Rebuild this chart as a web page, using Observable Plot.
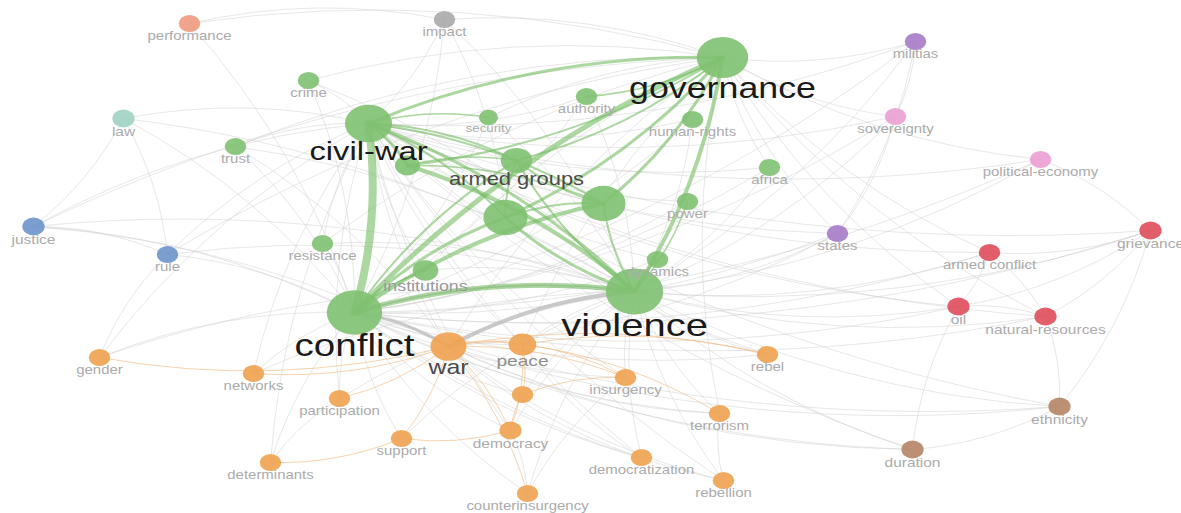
<!DOCTYPE html>
<html>
<head>
<meta charset="utf-8">
<script src="https://cdn.jsdelivr.net/npm/d3@7"></script>
<script src="https://cdn.jsdelivr.net/npm/@observablehq/plot@0.6"></script>
<style>
html, body { margin: 0; padding: 0; background: #fff; overflow: hidden; }
#chart svg { display: block; }
</style>
</head>
<body>
<div id="chart"></div>
<script>
// ---- Data: keyword co-occurrence map (VOSviewer style) ----
const names = ["governance","civil-war","conflict","violence","armed groups","n1","n2","n3",
  "security","authority","human-rights","africa","power","dynamics","institutions","resistance","trust","crime",
  "impact","performance","law","justice","rule","militias","states","sovereignty","political-economy",
  "grievance","armed conflict","oil","natural-resources","ethnicity","duration",
  "war","peace","gender","networks","participation","support","democracy","n4","insurgency","rebel",
  "terrorism","democratization","rebellion","counterinsurgency","determinants"];
const mapX = [722,368,354,634,516,505,603,407,
  488,586,692,769,687,657,425,322,235,308,
  444,189,123,33,167,915,837,895,1040,
  1150,989,958,1045,1059,912,
  448,522,99,253,339,401,510,522,625,767,
  719,641,723,527,270];
const mapY = [57,123,312,291,160,217,203,165,
  117,96,119,167,201,259,270,243,146,80,
  19,23,118,226,254,41,233,116,159,
  230,252,306,316,406,449,
  346,344,357,373,398,438,430,394,377,354,
  413,457,480,493,462];
const occurrences = [80,67,93,100,30,59,59,19,
  11,14,14,14,14,14,20,14,14,14,
  14,14,15,15,14,14,14,14,14,
  15,14,15,15,15,15,
  39,23,14,14,14,14,15,14,14,14,
  14,14,14,14,14];
const clusters = ["g","g","g","g","g","g","g","g",
  "g","g","g","g","g","g","g","g","g","g",
  "gray","salmon","teal","blue","blue","purple","purple","pink","pink",
  "red","red","red","red","brown","brown",
  "o","o","o","o","o","o","o","o","o","o",
  "o","o","o","o","o"];
const hiddenLabels = ["n1","n2","n3","n4"];
const clusterNames = ["g","o","gray","salmon","teal","blue","purple","pink","red","brown"];
const clusterColors = ["#80c171","#eea250","#aaaaaa","#ee9a80","#9fd3c3","#6d93cc","#a57ac6","#ec9fd3","#df4d5b","#b58463"];

// strong links inside the green cluster: [source, target, strength]
const greenLinks = [
  ["civil-war","conflict",8],["conflict","governance",5],["conflict","violence",5],
  ["civil-war","governance",3],["civil-war","violence",3],["civil-war","armed groups",2],
  ["civil-war","n1",2],["civil-war","n2",2],["civil-war","n3",3],
  ["governance","violence",4],["governance","n2",3],["governance","n1",3],
  ["governance","armed groups",2],["governance","n3",2],["governance","authority",1.5],
  ["violence","n1",3],["violence","armed groups",2],["n3","violence",4],
  ["conflict","n1",3],["conflict","n2",4],["conflict","armed groups",2],["conflict","institutions",2],
  ["n1","n2",2],["n1","armed groups",2],["n2","armed groups",2],["violence","n2",2],
  ["violence","dynamics",2],["civil-war","security",1.5],["n3","armed groups",1.5],["power","violence",1.5],
  ["n3","n2",1.5]
];
const grayStrongLinks = [["conflict","war",3],["war","violence",4],["conflict","violence",1.5]];
const orangeLinks = [
  ["war","peace",2],["war","rebel",1],["war","insurgency",1],["peace","insurgency",1],
  ["war","democracy",1],["peace","democracy",1],["war","support",1],["war","participation",1],
  ["support","determinants",1],["war","networks",1],["peace","n4",1],["democracy","n4",1],
  ["war","gender",1],["peace","rebel",1],["n4","insurgency",1],["democracy","support",1],
  ["war","counterinsurgency",1],["peace","terrorism",1]
];
const grayLinks = [
  "performance|governance","performance|conflict","performance|impact",
  "impact|governance","impact|civil-war","impact|conflict","impact|violence","impact|n1",
  "crime|civil-war","crime|governance","crime|violence","crime|conflict",
  "law|justice","law|rule","law|conflict","law|civil-war","law|violence",
  "trust|conflict","trust|civil-war","trust|violence","trust|governance","trust|war",
  "justice|conflict","justice|civil-war","justice|violence","justice|rule","justice|war","justice|governance",
  "rule|conflict","rule|violence","rule|civil-war","rule|governance",
  "resistance|conflict","resistance|violence","resistance|civil-war","resistance|governance",
  "security|governance","security|violence","security|conflict",
  "authority|civil-war","authority|violence","authority|conflict",
  "human-rights|conflict","human-rights|violence","human-rights|civil-war",
  "africa|conflict","africa|violence","africa|civil-war","africa|governance",
  "power|conflict","power|civil-war","dynamics|conflict","dynamics|civil-war",
  "militias|governance","militias|violence","militias|conflict","militias|civil-war","militias|sovereignty","militias|states",
  "sovereignty|governance","sovereignty|violence","sovereignty|conflict","sovereignty|civil-war","sovereignty|states",
  "political-economy|conflict","political-economy|violence","political-economy|civil-war","political-economy|governance","political-economy|grievance",
  "states|governance","states|violence","states|conflict","states|civil-war","states|war",
  "grievance|conflict","grievance|violence","grievance|civil-war","grievance|oil","grievance|natural-resources","grievance|ethnicity","grievance|armed conflict",
  "armed conflict|violence","armed conflict|conflict","armed conflict|civil-war","armed conflict|oil","armed conflict|natural-resources","armed conflict|governance",
  "oil|conflict","oil|civil-war","oil|violence","oil|natural-resources","oil|governance",
  "natural-resources|conflict","natural-resources|civil-war","natural-resources|violence","natural-resources|governance","natural-resources|ethnicity",
  "ethnicity|conflict","ethnicity|civil-war","ethnicity|violence","ethnicity|duration","ethnicity|war",
  "duration|civil-war","duration|conflict","duration|violence","duration|war","duration|oil",
  "gender|conflict","gender|violence","gender|civil-war","gender|rule",
  "networks|conflict","networks|violence","networks|civil-war",
  "participation|conflict","participation|violence","participation|civil-war",
  "support|conflict","support|violence",
  "determinants|conflict","determinants|civil-war","determinants|participation",
  "democracy|conflict","democracy|violence","democracy|civil-war","democracy|counterinsurgency",
  "n4|violence","n4|conflict",
  "insurgency|violence","insurgency|conflict","insurgency|civil-war",
  "rebel|violence","rebel|conflict","rebel|civil-war",
  "terrorism|violence","terrorism|conflict","terrorism|war","terrorism|governance",
  "democratization|conflict","democratization|violence","democratization|war","democratization|peace","democratization|civil-war",
  "rebellion|conflict","rebellion|violence","rebellion|civil-war","rebellion|war","rebellion|terrorism",
  "counterinsurgency|conflict","counterinsurgency|violence","counterinsurgency|insurgency",
  "war|civil-war","war|governance","peace|conflict","peace|violence","peace|civil-war","peace|governance",
  "institutions|civil-war","institutions|violence","institutions|governance"
];

// ---- Build tables ----
const colorOf = new Map(clusterNames.map((c, i) => [c, clusterColors[i]]));
const nodes = names.map((name, i) => ({name, x: mapX[i], y: mapY[i], w: occurrences[i], cluster: clusters[i], color: colorOf.get(clusters[i])}));
const byName = new Map(nodes.map(d => [d.name, d]));
const toEdge = ([a, b, s]) => ({x1: byName.get(a).x, y1: byName.get(a).y, x2: byName.get(b).x, y2: byName.get(b).y, s});
const gEdges = greenLinks.map(toEdge);
const gsEdges = grayStrongLinks.map(toEdge);
const oEdges = orangeLinks.map(toEdge);
const lEdges = grayLinks.map(s => toEdge([...s.split("|"), 1]));

const rScale = d3.scaleSqrt().domain([0, 100]).range([0, 23]);
const fsScale = d3.scaleSqrt().domain([0, 100]).range([0, 32]);
const labelColor = d3.scaleLinear().domain([15, 24, 30, 45, 60]).range(["#ababab", "#8a8a8a", "#4a4a4a", "#4a4a4a", "#1a1a1a"]).clamp(true);
const labelNodes = nodes.filter(d => !hiddenLabels.includes(d.name)).map(d => ({
  ...d,
  ly: d.y + rScale(d.w) + 0.36 * fsScale(d.w),
  fs: fsScale(d.w),
  lc: labelColor(d.w)
}));

const chart = Plot.plot({
  width: 1181,
  height: 513,
  margin: 0,
  style: {fontFamily: "'Liberation Sans', Arial, sans-serif", background: "#ffffff"},
  x: {domain: [0, 1181], axis: null},
  y: {domain: [513, 0], axis: null},
  r: {type: "sqrt", domain: [0, 100], range: [0, 23]},
  color: {type: "identity"},
  marks: [
    Plot.arrow(lEdges, {x1: "x1", y1: "y1", x2: "x2", y2: "y2", bend: 12, headLength: 0, stroke: "#cfcfcf", strokeOpacity: 0.5, strokeWidth: 1}),
    Plot.arrow(oEdges, {x1: "x1", y1: "y1", x2: "x2", y2: "y2", bend: 12, headLength: 0, stroke: "#f2c08e", strokeOpacity: 0.7, strokeWidth: "s"}),
    Plot.arrow(gsEdges, {x1: "x1", y1: "y1", x2: "x2", y2: "y2", bend: 12, headLength: 0, stroke: "#bdbdbd", strokeOpacity: 0.8, strokeWidth: "s"}),
    Plot.arrow(gEdges, {x1: "x1", y1: "y1", x2: "x2", y2: "y2", bend: 12, headLength: 0, stroke: "#74bd63", strokeOpacity: 0.6, strokeWidth: "s"}),
    Plot.dot(nodes, {x: "x", y: "y", r: "w", fill: "color", fillOpacity: 0.9, stroke: "none"}),
    Plot.text(labelNodes, {x: "x", y: "ly", text: "name", fontSize: "fs", fill: "lc", textAnchor: "middle", lineAnchor: "middle"})
  ]
});

// Horizontal stretch of symbols and labels, as in the original map export
const SX = 1.25;
const xs = chart.scale("x"), ys = chart.scale("y");
d3.select(chart).selectAll('g[aria-label="dot"] circle').each(function() {
  const c = d3.select(this);
  const cx = +c.attr("cx"), cy = +c.attr("cy");
  c.attr("cx", 0).attr("cy", 0).attr("transform", `translate(${cx},${cy}) scale(${SX},1)`);
});
d3.select(chart).selectAll('g[aria-label="text"] text').each(function(_, i) {
  const d = labelNodes[i];
  const t = d3.select(this);
  const yAttr = t.attr("y");
  if (t.attr("x") != null && !String(t.attr("x")).endsWith("em")) t.attr("x", null);
  if (yAttr != null && !String(yAttr).endsWith("em")) t.attr("y", null);
  t.attr("transform", `translate(${xs.apply(d.x)},${ys.apply(d.ly)}) scale(${SX},1)`);
});

document.getElementById("chart").appendChild(chart);
</script>
</body>
</html>
